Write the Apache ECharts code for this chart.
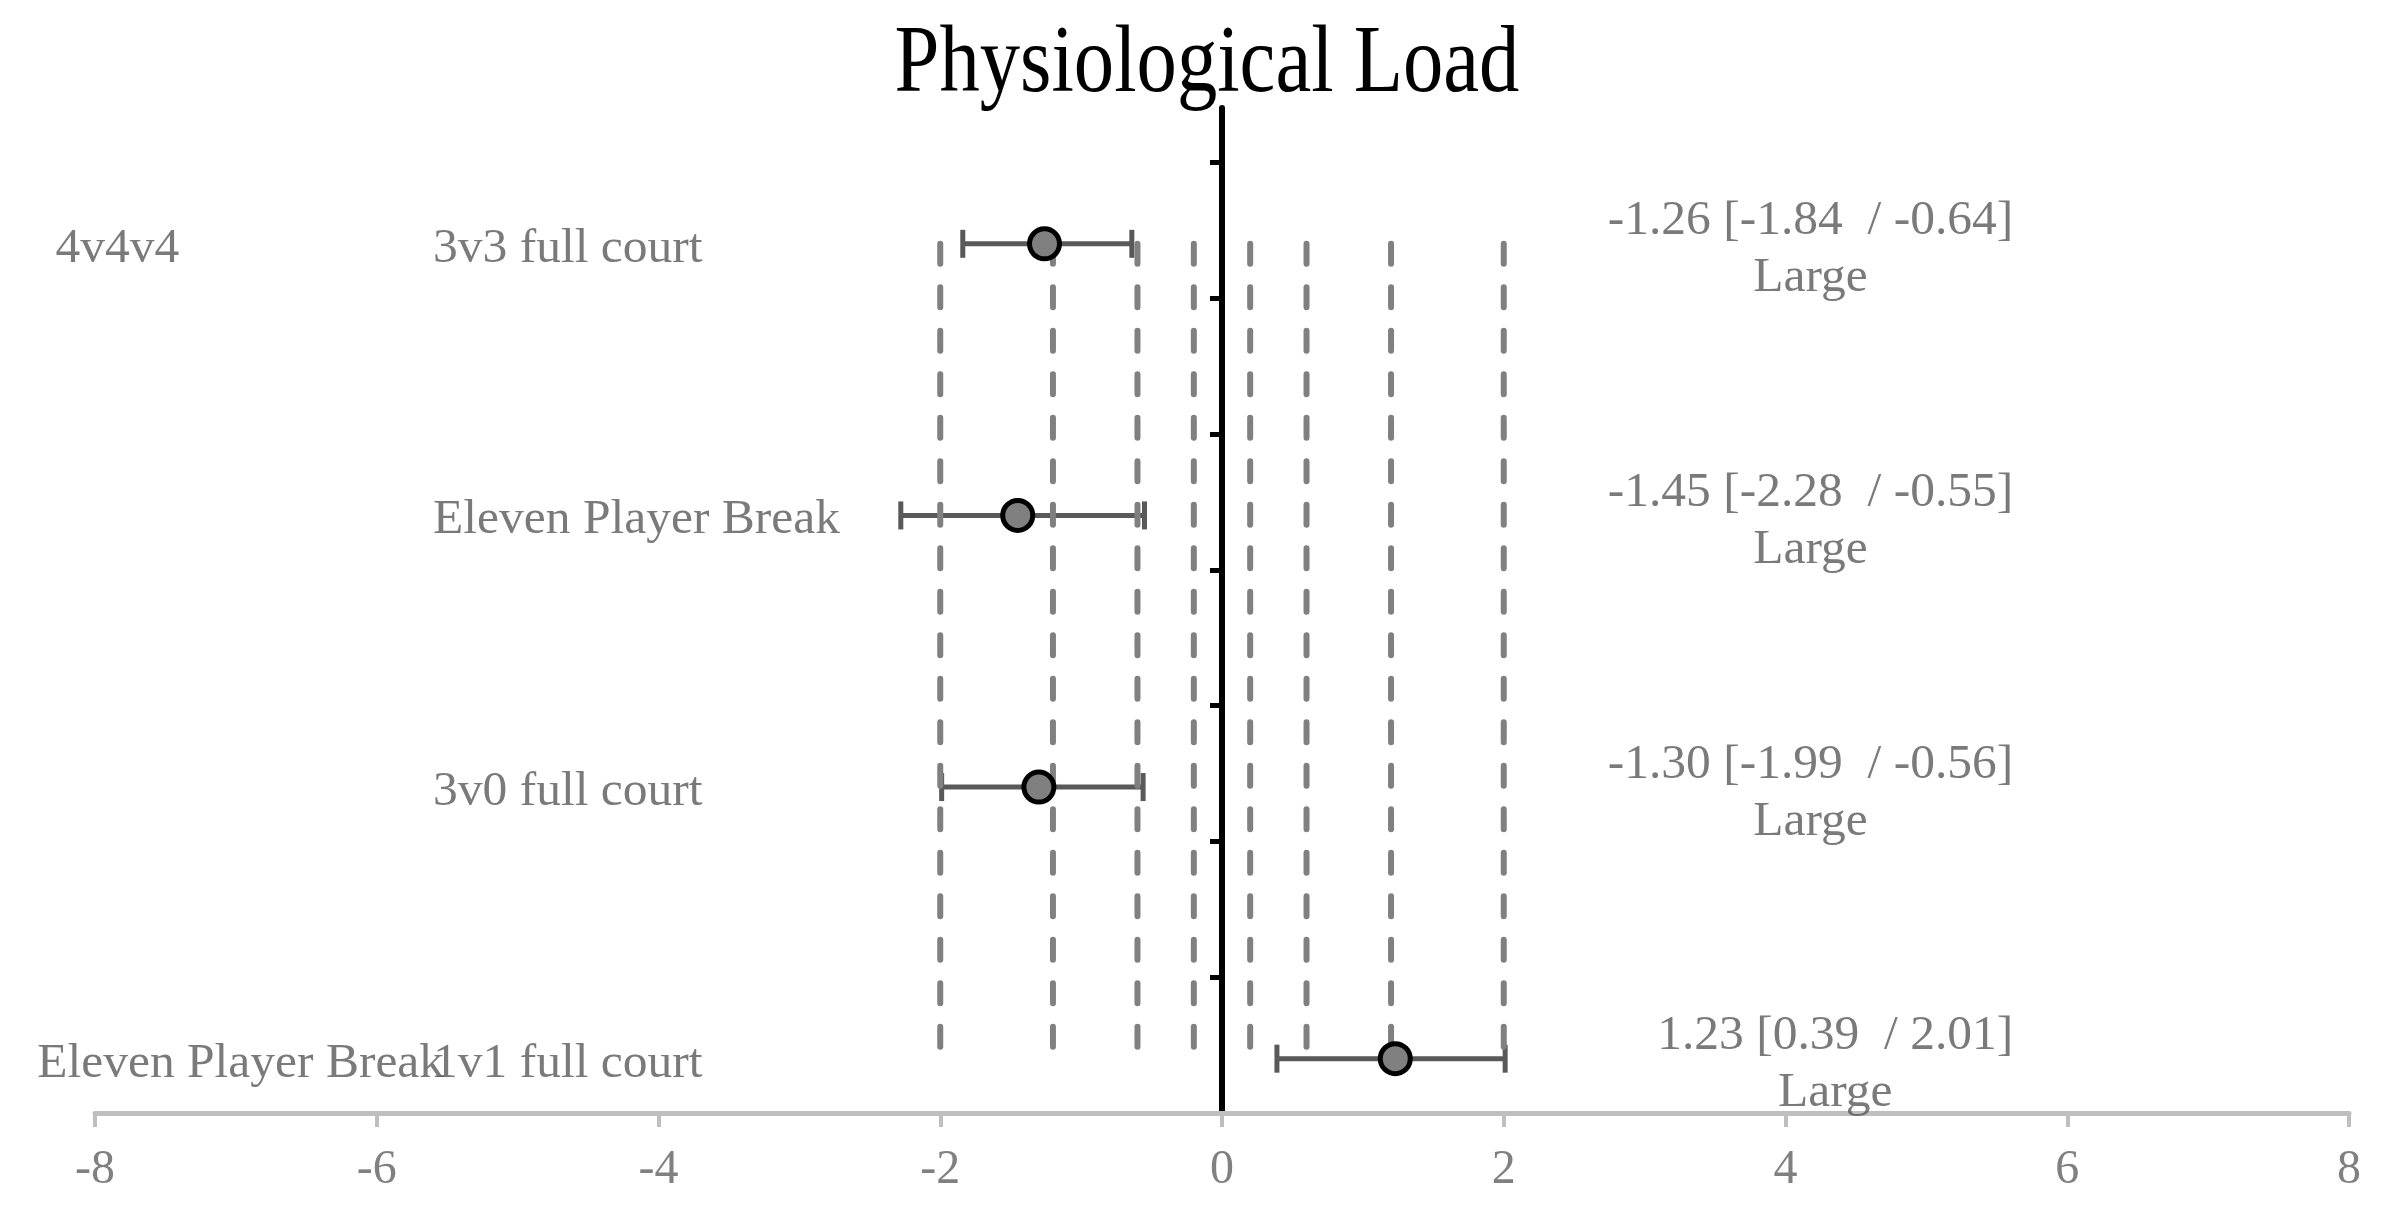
<!DOCTYPE html>
<html>
<head>
<meta charset="utf-8">
<script src="https://cdn.jsdelivr.net/npm/echarts@6/dist/echarts.min.js"></script>
<style>
  html, body { margin: 0; padding: 0; background: #fff; }
  #chart { width: 2396px; height: 1227px; }
</style>
</head>
<body>
<div id="chart"></div>
<script>
// ---- data ----
const titleText = 'Physiological Load';
const groupLabels = ['4v4v4', '', '', 'Eleven Player Break'];
const drillLabels = ['3v3 full court', 'Eleven Player Break', '3v0 full court', '1v1 full court'];
const rowY = [6.4, 4.4, 2.4, 0.4];
const effect = [-1.26, -1.45, -1.30, 1.23];
const lower = [-1.84, -2.28, -1.99, 0.39];
const upper = [-0.64, -0.55, -0.56, 2.01];
const magnitude = ['Large', 'Large', 'Large', 'Large'];
const thresholds = [-2, -1.2, -0.6, -0.2, 0.2, 0.6, 1.2, 2];
const xMin = -8, xMax = 8, xStep = 2;
const yTickValues = [1, 2, 3, 4, 5, 6, 7];

// ---- layout constants ----
const FONT = '"Liberation Serif", "Times New Roman", serif';
const groupX = [-8.28, 0, 0, -8.41];
const drillX = -5.60;
const summaryX = 5.617;
const LABEL_SIZE = 49.5;

const fmt = v => v.toFixed(2);

const chart = echarts.init(document.getElementById('chart'), null, { renderer: 'canvas' });

const series = [];

// dashed threshold lines
thresholds.forEach(t => {
  series.push({
    type: 'line',
    data: [[t, rowY[0]], [t, rowY[rowY.length - 1]]],
    symbol: 'none',
    silent: true,
    z: 3,
    lineStyle: { color: '#808080', width: 6, type: [20, 23.5], cap: 'round' }
  });
});

// error bars
series.push({
  type: 'custom',
  z: 2,
  silent: true,
  clip: false,
  data: rowY.map((y, i) => [lower[i], upper[i], y]),
  renderItem: function (params, api) {
    const lo = api.coord([api.value(0), api.value(2)]);
    const hi = api.coord([api.value(1), api.value(2)]);
    const cap = 14;
    const st = { stroke: '#595959', lineWidth: 5, fill: null };
    return {
      type: 'group',
      children: [
        { type: 'line', shape: { x1: lo[0], y1: lo[1], x2: hi[0], y2: hi[1] }, style: st },
        { type: 'line', shape: { x1: lo[0], y1: lo[1] - cap, x2: lo[0], y2: lo[1] + cap }, style: st },
        { type: 'line', shape: { x1: hi[0], y1: hi[1] - cap, x2: hi[0], y2: hi[1] + cap }, style: st }
      ]
    };
  }
});

// points
series.push({
  type: 'scatter',
  z: 5,
  silent: true,
  data: rowY.map((y, i) => [effect[i], y]),
  symbol: 'circle',
  symbolSize: 30,
  itemStyle: { color: '#808080', borderColor: '#000', borderWidth: 5, opacity: 1 }
});

const textSeries = (data, labelOpt) => ({
  type: 'scatter',
  z: 6,
  silent: true,
  clip: false,
  symbolSize: 0,
  itemStyle: { color: 'rgba(0,0,0,0)' },
  data: data,
  label: Object.assign({ show: true, distance: 0, fontFamily: FONT, fontSize: LABEL_SIZE, color: '#595959' }, labelOpt)
});

// group labels (column A)
series.push(textSeries(
  rowY.map((y, i) => ({ value: [groupX[i], y], name: groupLabels[i] })).filter(d => d.name !== ''),
  { position: 'right', offset: [0, 5], formatter: p => p.name }
));

// drill labels (column B)
series.push(textSeries(
  rowY.map((y, i) => ({ value: [drillX, y], name: drillLabels[i] })),
  { position: 'right', offset: [0, 5], formatter: p => p.name }
));

// summary labels (right)
series.push(textSeries(
  rowY.map((y, i) => ({ value: [summaryX, y], idx: i })),
  {
    position: 'left',
    offset: [0, 6],
    formatter: p => {
      const i = p.dataIndex;
      return '{c|' + fmt(effect[i]) + ' [' + fmt(lower[i]) + '  / ' + fmt(upper[i]) + ']}\n{c|' + magnitude[i] + '}';
    },
    rich: { c: { align: 'center', fontFamily: FONT, fontSize: LABEL_SIZE, color: '#595959', lineHeight: 57 } }
  }
));

chart.setOption({
  animation: false,
  backgroundColor: '#fff',
  grid: { left: 95, right: 47, top: 108, bottom: 114, containLabel: false },
  xAxis: {
    type: 'value',
    min: xMin, max: xMax, interval: xStep,
    splitLine: { show: false },
    axisLine: { onZero: false, lineStyle: { color: '#bfbfbf', width: 5 } },
    axisTick: { show: true, length: 14, lineStyle: { color: '#bfbfbf', width: 4 } },
    axisLabel: { fontFamily: FONT, fontSize: 48, color: '#808080', margin: 33 }
  },
  yAxis: {
    type: 'value',
    min: 0, max: 7.4, interval: 1,
    splitLine: { show: false },
    axisLine: { show: true, onZero: true, lineStyle: { color: '#000', width: 6 } },
    axisTick: { show: true, length: 12, customValues: yTickValues, lineStyle: { color: '#000', width: 5 } },
    axisLabel: { show: false }
  },
  graphic: [{
    type: 'text',
    x: 1207, y: 66,
    scaleX: 0.84,
    silent: true,
    style: { text: titleText, x: 0, y: 0, font: '96px ' + FONT, fill: '#000', textAlign: 'center', textVerticalAlign: 'middle' }
  }],
  series: series
});
</script>
</body>
</html>
